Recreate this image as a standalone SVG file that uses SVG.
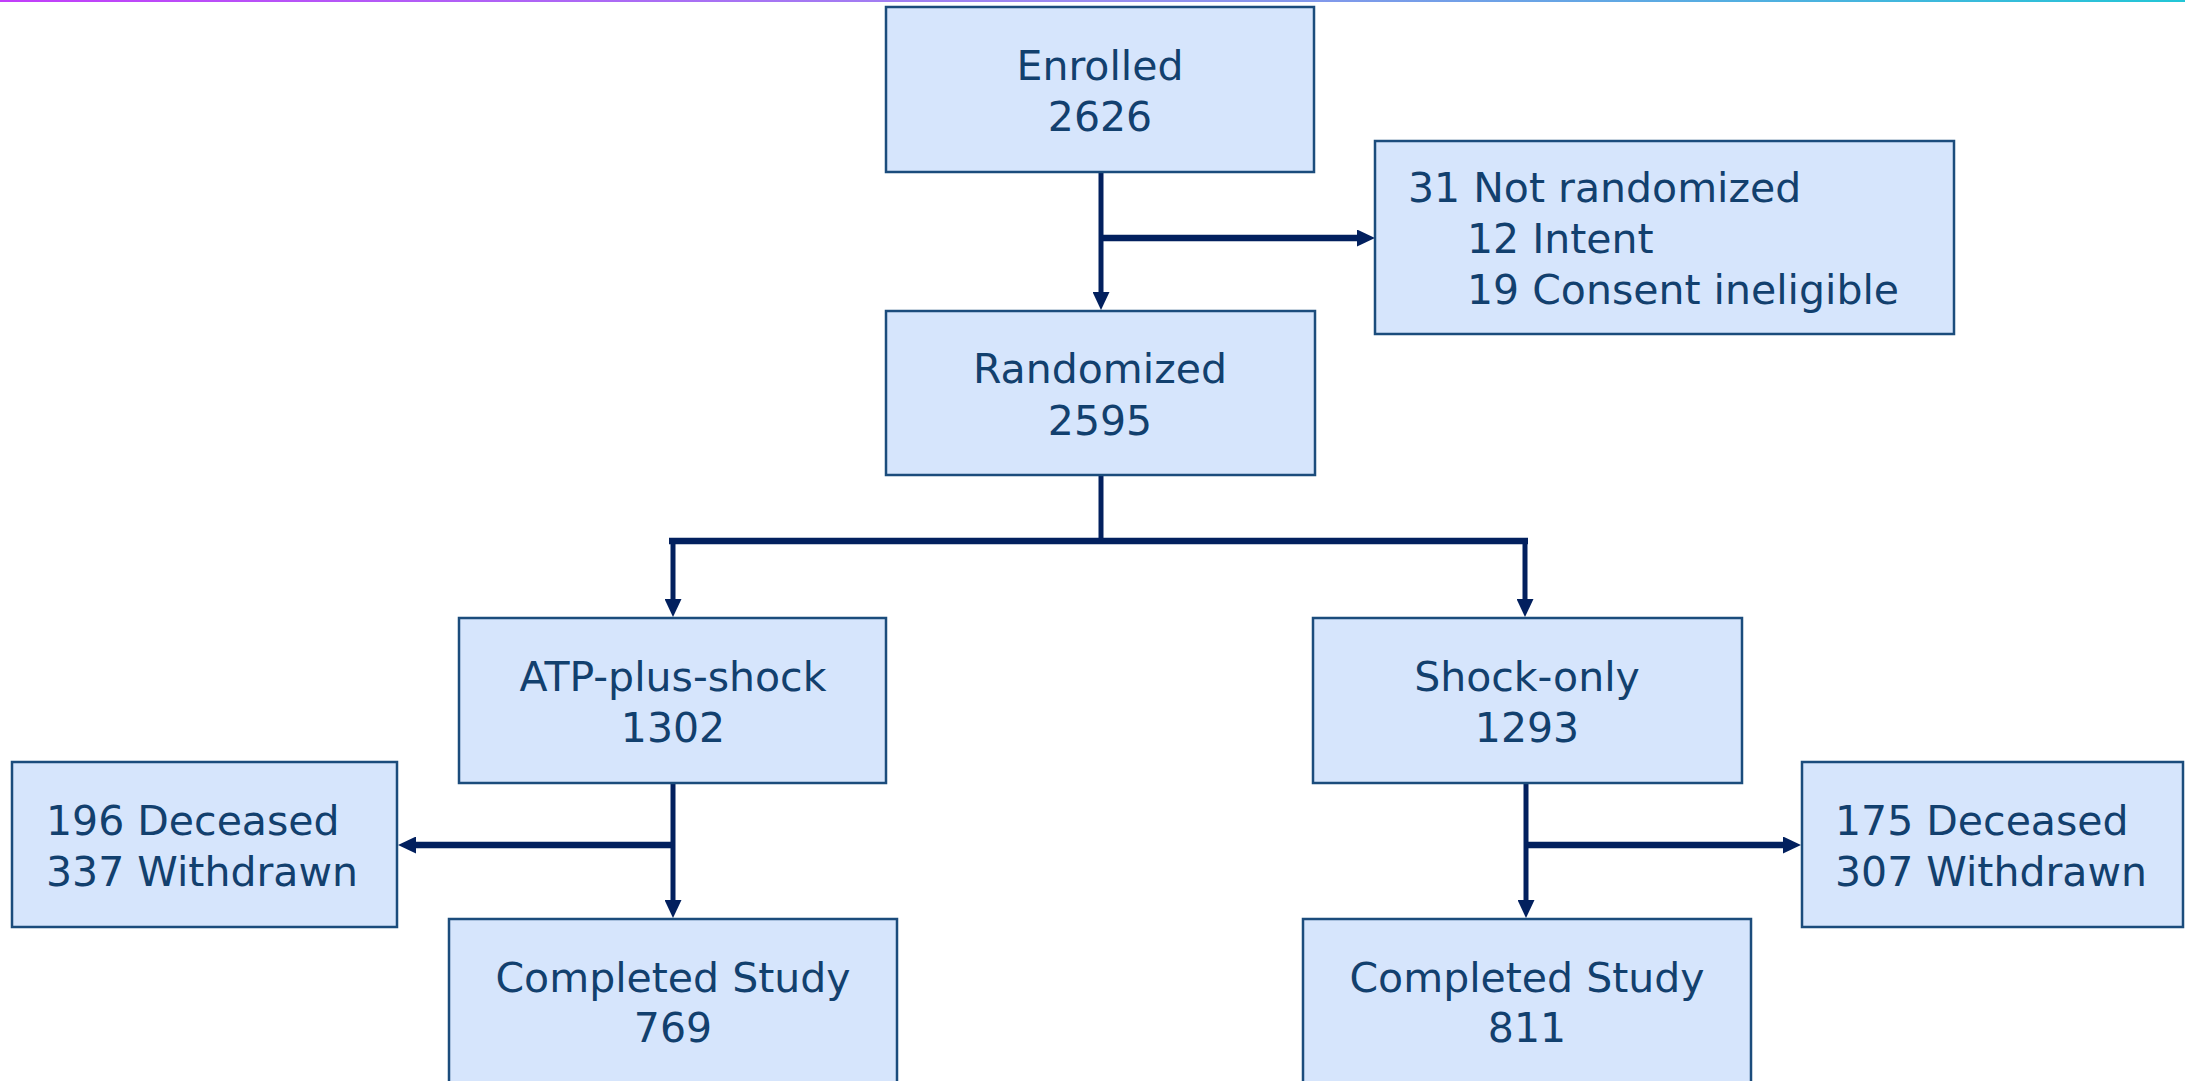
<svg xmlns="http://www.w3.org/2000/svg" width="2185" height="1081" viewBox="0 0 2185 1081">
<style>
.box{fill:#D6E5FC;stroke:#1B4C7C;stroke-width:2.5}
.t{font-family:"DejaVu Sans",sans-serif;font-size:41px;fill:#12406E}
.c{text-anchor:middle}
.ln{stroke:#02205E;fill:none;stroke-width:5}
.lt{stroke:#02205E;fill:none;stroke-width:6.5}
</style>
<defs>
<linearGradient id="topg" x1="0" y1="0" x2="1" y2="0">
<stop offset="0" stop-color="#C23EFA"/>
<stop offset="0.5" stop-color="#9A8CF0"/>
<stop offset="1" stop-color="#22C6D6"/>
</linearGradient>
<marker id="ah" markerUnits="userSpaceOnUse" markerWidth="18" markerHeight="17" refX="8" refY="8.5" orient="auto">
<path d="M0,0 L18,8.5 L0,17 z" fill="#02205E"/>
</marker>
</defs>
<rect width="2185" height="1081" fill="#FFFFFF"/>
<rect x="0" y="0" width="2185" height="2" fill="url(#topg)"/>

<g id="connectors">
<line class="ln" x1="1101" y1="172" x2="1101" y2="300" marker-end="url(#ah)"/>
<line class="lt" x1="1101" y1="238" x2="1365" y2="238" marker-end="url(#ah)"/>
<line class="ln" x1="1101" y1="475" x2="1101" y2="541"/>
<line class="lt" x1="669" y1="541" x2="1528" y2="541"/>
<line class="ln" x1="673" y1="541" x2="673" y2="607" marker-end="url(#ah)"/>
<line class="ln" x1="1525" y1="541" x2="1525" y2="607" marker-end="url(#ah)"/>
<line class="ln" x1="673" y1="783" x2="673" y2="908" marker-end="url(#ah)"/>
<line class="lt" x1="673" y1="845" x2="408" y2="845" marker-end="url(#ah)"/>
<line class="ln" x1="1526" y1="783" x2="1526" y2="908" marker-end="url(#ah)"/>
<line class="lt" x1="1526" y1="845" x2="1791" y2="845" marker-end="url(#ah)"/>
</g>

<g id="enrolled">
<rect class="box" x="886" y="7" width="428" height="165"/>
<text class="t c" x="1100" y="80">Enrolled</text>
<text class="t c" x="1100" y="131">2626</text>
</g>

<g id="not-randomized">
<rect class="box" x="1375" y="141" width="579" height="193"/>
<text class="t" x="1408" y="202">31 Not randomized</text>
<text class="t" x="1467" y="253">12 Intent</text>
<text class="t" x="1467" y="304">19 Consent ineligible</text>
</g>

<g id="randomized">
<rect class="box" x="886" y="311" width="429" height="164"/>
<text class="t c" x="1100" y="383">Randomized</text>
<text class="t c" x="1100" y="435">2595</text>
</g>

<g id="atp">
<rect class="box" x="459" y="618" width="427" height="165"/>
<text class="t c" x="673" y="691">ATP-plus-shock</text>
<text class="t c" x="673" y="742">1302</text>
</g>

<g id="shock">
<rect class="box" x="1313" y="618" width="429" height="165"/>
<text class="t c" x="1527" y="691">Shock-only</text>
<text class="t c" x="1527" y="742">1293</text>
</g>

<g id="left-lost">
<rect class="box" x="12" y="762" width="385" height="165"/>
<text class="t" x="46" y="835">196 Deceased</text>
<text class="t" x="46" y="886">337 Withdrawn</text>
</g>

<g id="right-lost">
<rect class="box" x="1802" y="762" width="381" height="165"/>
<text class="t" x="1835" y="835">175 Deceased</text>
<text class="t" x="1835" y="886">307 Withdrawn</text>
</g>

<g id="left-completed">
<rect class="box" x="449" y="919" width="448" height="175"/>
<text class="t c" x="673" y="992">Completed Study</text>
<text class="t c" x="673" y="1042">769</text>
</g>

<g id="right-completed">
<rect class="box" x="1303" y="919" width="448" height="175"/>
<text class="t c" x="1527" y="992">Completed Study</text>
<text class="t c" x="1527" y="1042">811</text>
</g>
</svg>
